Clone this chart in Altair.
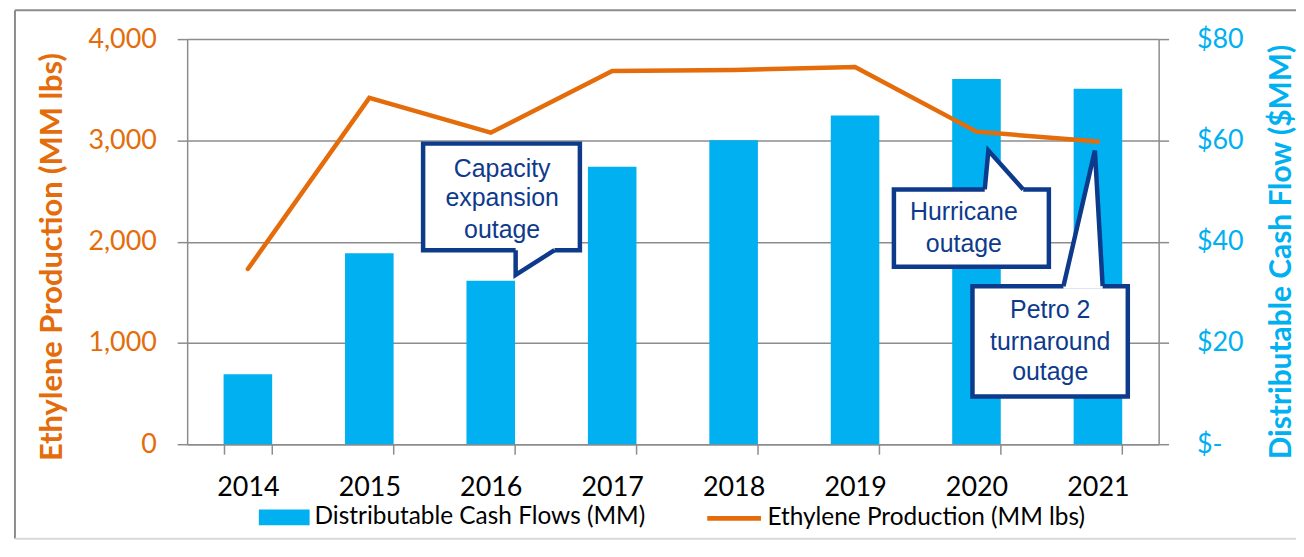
import altair as alt
import pandas as pd

# ---------------- data ----------------
years = ["2014", "2015", "2016", "2017", "2018", "2019", "2020", "2021"]
cash_flow = [13.8, 37.7, 32.3, 54.8, 60.0, 64.9, 72.1, 70.2]          # $MM (right axis)
ethylene = [1730, 3420, 3076, 3685, 3695, 3725, 3086, 2988]            # MM lbs (left axis)
cash_name = "Distributable Cash Flows (MM)"
eth_name = "Ethylene Production (MM lbs)"

# callouts: x in category-index units (0..8), y in MM lbs (0..4000)
callout_ids = ["cap", "hur", "pet"]
box_x1 = [1.943, 5.820, 6.467]
box_x2 = [3.234, 7.096, 7.746]
box_y1 = [1916, 1752, 472]
box_y2 = [2968, 2516, 1560]
tail_x = [[2.705, 2.705, 3.025], [6.568, 6.598, 6.885], [7.216, 7.475, 7.539]]
tail_y = [[1916, 1671, 1916], [2516, 2899, 2516], [1560, 2899, 1560]]
cover_x = [[2.705, 3.025], [6.568, 6.598, 6.885], [7.216, 7.475, 7.539]]
cover_edge = [[1671, 1916], [2516, 2899, 2516], [1560, 2899, 1560]]
cover_in = [1941, 2491, 1535]
text_lines = [["Capacity", "expansion", "outage"], ["Hurricane", "outage"], ["Petro 2", "turnaround", "outage"]]
text_x = [2.594, 6.396, 7.107]
text_y = [[2634, 2349, 2034], [2211, 1900], [1245, 934, 632]]

# ---------------- tables ----------------
main = pd.DataFrame({"year": years, "cash": cash_flow, "eth": ethylene,
                     "s1": cash_name, "s2": eth_name})
boxes = pd.DataFrame({"id": callout_ids, "x1": box_x1, "x2": box_x2, "y1": box_y1, "y2": box_y2})
tails = pd.DataFrame([{"id": cid, "o": j, "x": tx, "y": ty}
                      for cid, xs, ys in zip(callout_ids, tail_x, tail_y)
                      for j, (tx, ty) in enumerate(zip(xs, ys))])
covers = pd.DataFrame([{"id": cid, "x": cx, "y": ci, "y2": ce}
                       for cid, xs, es, ci in zip(callout_ids, cover_x, cover_edge, cover_in)
                       for cx, ce in zip(xs, es)])
texts = pd.DataFrame([{"x": tx, "y": ty, "t": t}
                      for lines, tx, ys in zip(text_lines, text_x, text_y)
                      for t, ty in zip(lines, ys)])
one = pd.DataFrame({"a": [0]})

ORANGE = "#E46C0A"
CYAN = "#00B0F0"
NAVY = "#0E3A8C"
GRAY = "#8C8C8C"
FONT = "Lato"

xq = alt.Scale(domain=[0, 8], nice=False, zero=False)
yq = alt.Scale(domain=[0, 4000], nice=False, zero=False)

bars = alt.Chart(main).mark_bar().encode(
    x=alt.X("year:O", sort=years,
            scale=alt.Scale(paddingInner=0.6, paddingOuter=0.3),
            axis=alt.Axis(title=None, labelAngle=0, labelFont=FONT, labelFontSize=27,
                          labelColor="black", tickBand="extent", tickSize=10,
                          tickColor=GRAY, tickWidth=1.5, domainColor=GRAY,
                          domainWidth=1.5, labelPadding=21)),
    y=alt.Y("cash:Q", scale=alt.Scale(domain=[0, 80], nice=False),
            axis=alt.Axis(orient="right", values=[0, 20, 40, 60, 80], grid=False,
                          labelExpr="datum.value == 0 ? '$-' : '$' + datum.value",
                          labelFont=FONT, labelFontSize=27, labelColor=CYAN,
                          labelAlign="left", labelPadding=28,
                          tickSize=10, tickColor=GRAY, tickWidth=1.5,
                          domainColor=GRAY, domainWidth=1.5,
                          title="Distributable Cash Flow ($MM)", titleFont=FONT,
                          titleFontSize=30, titleFontWeight="bold", titleColor=CYAN,
                          titleAngle=270, titleX=132, titleY=213.5,
                          titleAlign="center", titleBaseline="alphabetic")),
    color=alt.Color("s1:N", scale=alt.Scale(domain=[cash_name], range=[CYAN]),
                    legend=alt.Legend(title=None, orient="none", legendX=72, legendY=455,
                                      symbolType="M-1,-0.31H1V0.31H-1Z", symbolSize=2601,
                                      symbolStrokeWidth=0, labelFont=FONT, labelFontSize=24.5,
                                      labelColor="black", labelOffset=5, padding=0,
                                      labelLimit=0)),
)

line = alt.Chart(main).mark_line(strokeWidth=4.5, strokeCap="round", strokeJoin="miter").encode(
    x=alt.X("year:O", sort=years, axis=None),
    y=alt.Y("eth:Q", scale=alt.Scale(domain=[0, 4000], nice=False),
            axis=alt.Axis(orient="left", values=[0, 1000, 2000, 3000, 4000], format=",d",
                          grid=True, gridColor=GRAY, gridWidth=1.5,
                          labelFont=FONT, labelFontSize=27, labelColor=ORANGE,
                          labelPadding=21, tickSize=10, tickColor=GRAY, tickWidth=1.5,
                          domainColor=GRAY, domainWidth=1.5,
                          title="Ethylene Production (MM lbs)", titleFont=FONT,
                          titleFontSize=31, titleFontWeight="bold", titleColor=ORANGE,
                          titleAngle=270, titleX=-126, titleY=218.5,
                          titleAlign="center", titleBaseline="alphabetic")),
    stroke=alt.Stroke("s2:N", scale=alt.Scale(domain=[eth_name], range=[ORANGE]),
                      legend=alt.Legend(title=None, orient="none", legendX=520, legendY=452,
                                        symbolType="M-1,0H1", symbolSize=2916,
                                        symbolStrokeWidth=5, labelFont=FONT, labelFontSize=24.5,
                                        labelColor="black", labelOffset=4, padding=0,
                                        labelLimit=0)),
)

box_layer = alt.Chart(boxes).mark_rect(fill="white", stroke=NAVY, strokeWidth=4.5).encode(
    x=alt.X("x1:Q", scale=xq, axis=None), x2="x2:Q",
    y=alt.Y("y1:Q", scale=yq, axis=None), y2="y2:Q",
)

cover_layer = alt.Chart(covers).mark_area(color="white", opacity=1, interpolate="linear").encode(
    x=alt.X("x:Q", scale=xq, axis=None),
    y=alt.Y("y:Q", scale=yq, axis=None, stack=None), y2="y2:Q",
    detail="id:N",
)

tail_layer = alt.Chart(tails).mark_line(color=NAVY, strokeWidth=4.5, strokeJoin="miter").encode(
    x=alt.X("x:Q", scale=xq, axis=None),
    y=alt.Y("y:Q", scale=yq, axis=None),
    detail="id:N", order="o:Q",
)

text_layer = alt.Chart(texts).mark_text(font="Liberation Sans", fontSize=25, color=NAVY,
                                        align="center", baseline="alphabetic").encode(
    x=alt.X("x:Q", scale=xq, axis=None),
    y=alt.Y("y:Q", scale=yq, axis=None),
    text="t:N",
)

frame_top = alt.Chart(one).mark_rule(color=GRAY, strokeWidth=2).encode(
    x=alt.value(-173), x2=alt.value(1114), y=alt.value(-29))
frame_left = alt.Chart(one).mark_rule(color=GRAY, strokeWidth=2).encode(
    x=alt.value(-173), y=alt.value(-29), y2=alt.value(502))
frame_bottom = alt.Chart(one).mark_rule(color="#D9D9D9", strokeWidth=2).encode(
    x=alt.value(-173), x2=alt.value(1114), y=alt.value(502))

chart = alt.layer(
    bars, line, box_layer, cover_layer, tail_layer, text_layer,
    frame_top, frame_left, frame_bottom
).resolve_scale(x="independent", y="independent").properties(
    width=976, height=407,
    padding={"left": 180, "top": 30, "right": 138, "bottom": 96},
    autosize=alt.AutoSizeParams(type="none"),
    background="white",
).configure_view(strokeWidth=0)

chart.save("out.html", embed_options={"renderer": "svg", "actions": False})
